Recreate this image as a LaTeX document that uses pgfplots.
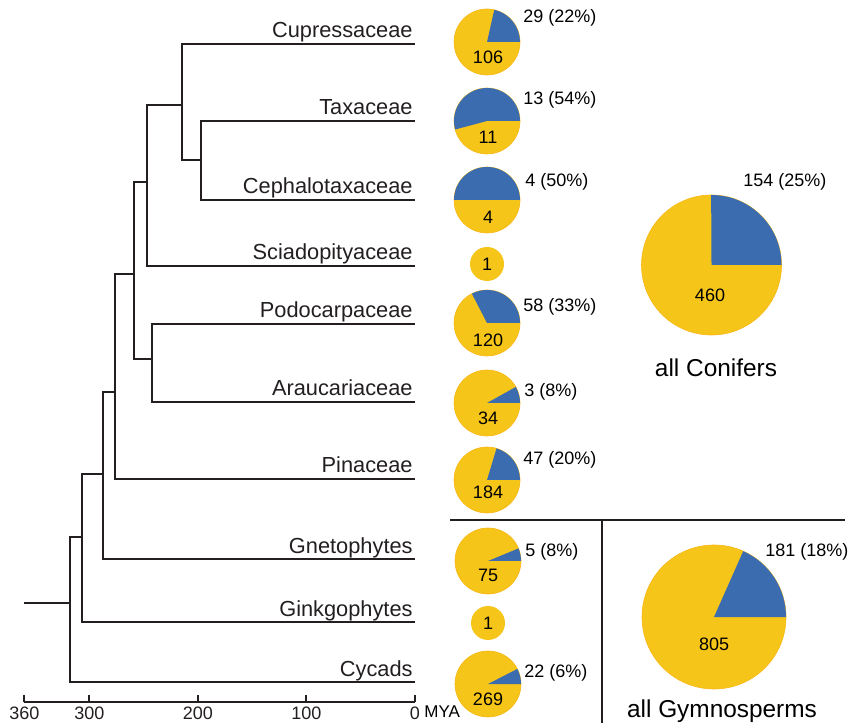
\documentclass[border=0pt]{standalone}
\usepackage{fontspec}
\setmainfont{Liberation Sans}
\usepackage{pgfplots}
\pgfplotsset{compat=1.18}

\definecolor{pieY}{RGB}{246,197,26}
\definecolor{pieB}{RGB}{60,108,176}
\definecolor{ink}{RGB}{35,31,32}

% pie at (cx,cy) in canvas px, radius in px, blue count, yellow count
\newcommand{\pie}[5]{%
  \fill[pieY, draw=pieY!80!orange, line width=0.3pt] (axis cs:#1,#2) circle[radius=#3*0.5pt];
  \fill[pieB] (axis cs:#1,#2) -- ++(0:#3*0.5pt)
     arc[start angle=0, end angle={360/(#4+#5)*#4}, radius=#3*0.5pt] -- cycle;
}
\newcommand{\numfont}{\fontsize{9}{10}\selectfont}
\tikzset{
  leaf/.style={anchor=base east, font=\fontsize{10.9}{12}\selectfont, text=ink, inner sep=0pt, yshift=3pt, xshift=-1pt},
  share/.style={anchor=west, inner sep=0pt, font=\numfont},
  branch/.style={ink, solid, line width=1pt, mark=none, line join=miter},
}

\begin{document}
\begin{tikzpicture}
% canvas in pixel units, origin bottom left
\begin{axis}[
  name=canvas, at={(0pt,0pt)}, anchor=south west,
  scale only axis, width=425.5pt, height=361.5pt,
  xmin=0, xmax=851, ymin=0, ymax=723,
  hide axis, clip=false,
  every node/.append style={text=ink},
]
  % family pies
  \pie{487}{681}{33}{29}{106}
  \pie{487}{602}{33}{13}{11}
  \pie{487}{523}{33}{4}{4}
  \fill[pieY] (axis cs:487,459) circle[radius=8.5pt];
  \pie{487}{400}{33}{58}{120}
  \pie{487}{320}{33}{3}{34}
  \pie{487}{243}{33}{47}{184}
  \pie{488}{162}{33}{5}{75}
  \fill[pieY] (axis cs:488,100) circle[radius=8.5pt];
  \pie{488}{39}{33}{22}{269}
  % totals
  \pie{711.5}{458}{70}{154}{460}
  \pie{714}{106}{72}{181}{805}

  \node[share] at (axis cs:523,705) {29 (22\%)};
  \node[font=\numfont] at (axis cs:488,666) {106};
  \node[share] at (axis cs:523,623) {13 (54\%)};
  \node[font=\numfont] at (axis cs:488,586) {11};
  \node[share] at (axis cs:525,541) {4 (50\%)};
  \node[font=\numfont] at (axis cs:488,506) {4};
  \node[font=\numfont] at (axis cs:487,459) {1};
  \node[share] at (axis cs:523,416) {58 (33\%)};
  \node[font=\numfont] at (axis cs:488,383) {120};
  \node[share] at (axis cs:524,331) {3 (8\%)};
  \node[font=\numfont] at (axis cs:488,305) {34};
  \node[share] at (axis cs:523,263) {47 (20\%)};
  \node[font=\numfont] at (axis cs:488,231) {184};
  \node[share] at (axis cs:525,171) {5 (8\%)};
  \node[font=\numfont] at (axis cs:488,148) {75};
  \node[font=\numfont] at (axis cs:488,100) {1};
  \node[share] at (axis cs:524,50) {22 (6\%)};
  \node[font=\numfont] at (axis cs:488,24) {269};

  \node[share] at (axis cs:743,541) {154 (25\%)};
  \node[font=\numfont] at (axis cs:710,428) {460};
  \node[anchor=base, font=\fontsize{12.2}{14}\selectfont] at (axis cs:716,346) {all Conifers};
  \node[share] at (axis cs:765,171) {181 (18\%)};
  \node[font=\numfont] at (axis cs:714,79) {805};
  \node[anchor=base, font=\fontsize{12.2}{14}\selectfont] at (axis cs:722,6) {all Gymnosperms};

  % separators
  \addplot[branch] coordinates {(450,203) (845,203)};
  \addplot[branch] coordinates {(602,203) (602,0)};

  \node[anchor=base west, inner sep=0pt, font=\fontsize{8.5}{10}\selectfont] at (axis cs:424,6) {MYA};
\end{axis}

% tree, x in million years ago
\begin{axis}[
  at={(12.2pt,10.5pt)}, anchor=south west,
  scale only axis, width=195.3pt, height=351pt,
  xmin=0, xmax=360, x dir=reverse,
  ymin=21, ymax=723,
  axis x line=bottom, axis y line=none,
  axis line style={ink, line width=1pt, -},
  xtick={0,100,200,300,360},
  tick align=inside, major tick length=3.5pt,
  tick style={ink, line width=1pt},
  ticklabel style={font=\fontsize{9}{10}\selectfont, text=ink, yshift=1pt},
  /pgf/number format/assume math mode=true,
  clip=false,
]
  \addplot[branch] coordinates {(0,602) (197,602) (197,523) (0,523)};
  \addplot[branch] coordinates {(0,679) (214.7,679) (214.7,563) (197,563)};
  \addplot[branch] coordinates {(214.7,618) (247,618) (247,457) (0,457)};
  \addplot[branch] coordinates {(0,399) (242.4,399) (242.4,321) (0,321)};
  \addplot[branch] coordinates {(247,541) (259,541) (259,364) (242.4,364)};
  \addplot[branch] coordinates {(259,449) (276.5,449) (276.5,244) (0,244)};
  \addplot[branch] coordinates {(276.5,331) (287.6,331) (287.6,164) (0,164)};
  \addplot[branch] coordinates {(287.6,249) (306.9,249) (306.9,101) (0,101)};
  \addplot[branch] coordinates {(306.9,186) (318,186) (318,41) (0,41)};
  \addplot[branch] coordinates {(318,120) (360,120)};

  \node[leaf] at (axis cs:0,679) {Cupressaceae};
  \node[leaf] at (axis cs:0,602) {Taxaceae};
  \node[leaf] at (axis cs:0,523) {Cephalotaxaceae};
  \node[leaf] at (axis cs:0,457) {Sciadopityaceae};
  \node[leaf] at (axis cs:0,399) {Podocarpaceae};
  \node[leaf] at (axis cs:0,321) {Araucariaceae};
  \node[leaf] at (axis cs:0,244) {Pinaceae};
  \node[leaf] at (axis cs:0,164) {Gnetophytes};
  \node[leaf] at (axis cs:0,101) {Ginkgophytes};
  \node[leaf] at (axis cs:0,41) {Cycads};
\end{axis}
\pgfresetboundingbox
\path (0pt,0pt) rectangle (425.5pt,361.5pt);
\end{tikzpicture}
\end{document}
